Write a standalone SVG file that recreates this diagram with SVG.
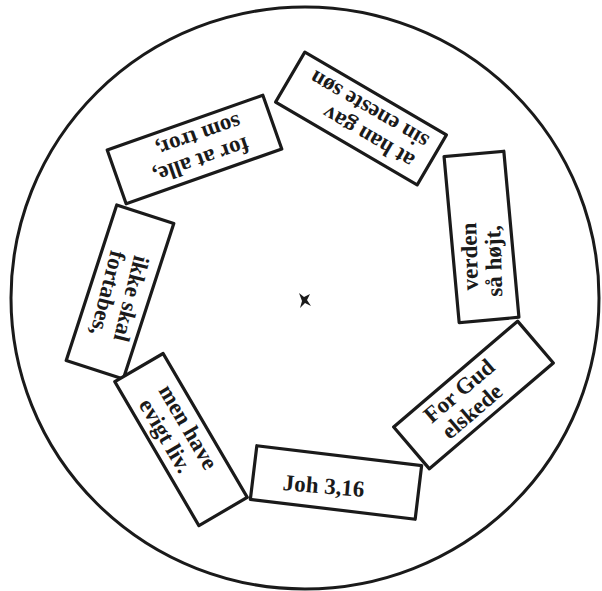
<svg xmlns="http://www.w3.org/2000/svg" width="602" height="591" viewBox="0 0 602 591">
<style>
.card rect{fill:#fff;stroke:#1a1a1a;stroke-width:3.2;stroke-linejoin:round}
.card text{font-family:"Liberation Serif","Times New Roman",serif;font-weight:bold;font-size:23px;fill:#1a1a1a}
</style>
<rect width="602" height="591" fill="#fff"/>
<ellipse id="wheel" cx="305" cy="298" rx="294" ry="291" fill="none" stroke="#1a1a1a" stroke-width="3"/>
<g id="center-mark"><path d="M299,293 L304,297 L310,294 L307,300 L311,306 L305,303 L300,308 L302,301 Z" fill="#1a1a1a"/></g>
<g id="connectors"></g>
<g id="card-at-han-gav" class="card" transform="translate(361,118.5) rotate(210.3)">
<rect x="-82" y="-29" width="164" height="58"/>
<text x="-67" y="-5">at han gav</text>
<text x="-69" y="19">sin eneste søn</text>
</g>
<g id="card-for-at-alle" class="card" transform="translate(194.5,149.5) rotate(160.6)">
<rect x="-82.5" y="-28.5" width="165" height="57"/>
<text x="-52.5" y="-5">for at alle,</text>
<text x="-52.5" y="19">som tror,</text>
</g>
<g id="card-ikke-skal" class="card" transform="translate(120,292) rotate(108)">
<rect x="-81.75" y="-30" width="163.5" height="60"/>
<g transform="rotate(-4)">
<text x="-40" y="-5">ikke skal</text>
<text x="-39" y="19">fortabes,</text>
</g>
</g>
<g id="card-verden" class="card" transform="translate(481.5,237) rotate(-95.2)">
<rect x="-83.3" y="-30" width="166.7" height="60"/>
<g transform="rotate(3.5)">
<text x="-53" y="-5">verden</text>
<text x="-60" y="19">så højt,</text>
</g>
</g>
<g id="card-for-gud" class="card" transform="translate(473.5,395) rotate(-40.5)">
<rect x="-81.5" y="-27.5" width="163" height="55"/>
<text x="-50.5" y="-5">For Gud</text>
<text x="-47.5" y="19">elskede</text>
</g>
<g id="card-joh" class="card" transform="translate(336,482.5) rotate(6.9)">
<rect x="-83" y="-27" width="166" height="54"/>
<text x="-12" y="12" text-anchor="middle" transform="rotate(-2)">Joh 3,16</text>
</g>
<g id="card-men-have" class="card" transform="translate(181,439.5) rotate(59.7)">
<rect x="-83.3" y="-28" width="166.7" height="56"/>
<text x="-54" y="-5">men have</text>
<text x="-52" y="19">evigt liv.</text>
</g>
</svg>
